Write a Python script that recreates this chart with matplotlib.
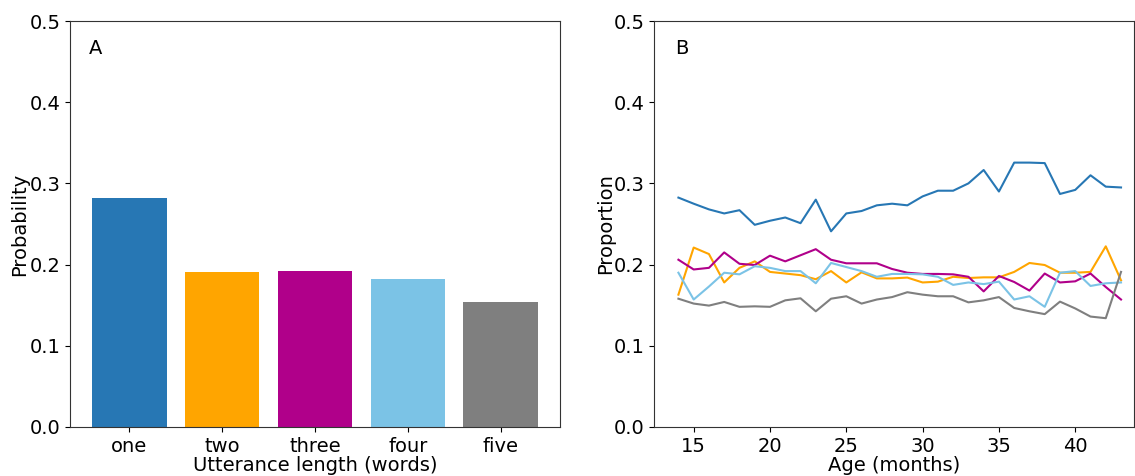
import matplotlib
matplotlib.use("Agg")
import matplotlib.pyplot as plt

# Panel A: probability of each utterance length
lengths = ["one", "two", "three", "four", "five"]
probabilities = [0.2825, 0.1905, 0.1926, 0.182, 0.154]

# Panel B: proportion of each utterance length by child age
ages = list(range(14, 44))
prop_one = [0.2825, 0.275, 0.268, 0.263, 0.267, 0.249, 0.254, 0.258, 0.251, 0.280,
            0.241, 0.263, 0.266, 0.273, 0.275, 0.273, 0.284, 0.291, 0.291, 0.300,
            0.3165, 0.290, 0.3256, 0.3256, 0.325, 0.287, 0.292, 0.310, 0.296, 0.295]
prop_two = [0.163, 0.221, 0.213, 0.178, 0.196, 0.204, 0.191, 0.189, 0.187, 0.182,
            0.192, 0.178, 0.1905, 0.183, 0.183, 0.184, 0.178, 0.179, 0.185, 0.1835,
            0.1843, 0.1843, 0.191, 0.202, 0.1995, 0.190, 0.190, 0.191, 0.2225, 0.1806]
prop_three = [0.206, 0.194, 0.196, 0.215, 0.201, 0.1995, 0.211, 0.204, 0.2115, 0.219,
              0.206, 0.2016, 0.2016, 0.2016, 0.1946, 0.190, 0.1885, 0.1885, 0.188, 0.185,
              0.167, 0.186, 0.1786, 0.168, 0.189, 0.178, 0.1794, 0.189, 0.1724, 0.157]
prop_four = [0.190, 0.157, 0.173, 0.190, 0.188, 0.198, 0.196, 0.192, 0.192, 0.177,
             0.202, 0.197, 0.192, 0.185, 0.1885, 0.1885, 0.188, 0.185, 0.175, 0.178,
             0.176, 0.179, 0.157, 0.161, 0.148, 0.190, 0.192, 0.1737, 0.177, 0.178]
prop_five = [0.158, 0.152, 0.1495, 0.154, 0.148, 0.1486, 0.148, 0.156, 0.1585, 0.1425,
             0.158, 0.161, 0.152, 0.157, 0.160, 0.166, 0.163, 0.161, 0.161, 0.1535,
             0.156, 0.160, 0.1466, 0.1425, 0.139, 0.1544, 0.146, 0.136, 0.134, 0.191]

colors = ["#2777b4", "#ffa500", "#b0008a", "#7bc3e6", "#7f7f7f"]

plt.rcParams["font.size"] = 14
plt.rcParams["font.family"] = ["DejaVu Sans"]

fig = plt.figure(figsize=(11.35, 4.76), dpi=100)
ax_a = fig.add_axes([70 / 1135, 49 / 476, 490 / 1135, 406 / 476])
ax_b = fig.add_axes([654 / 1135, 49 / 476, 480 / 1135, 406 / 476])

ax_a.bar(lengths, probabilities, color=colors, width=0.8)
ax_a.set_ylim(0, 0.5)
ax_a.set_xlabel("Utterance length (words)", labelpad=0)
ax_a.set_ylabel("Probability", labelpad=0)
ax_a.text(0.039, 0.933, "A", transform=ax_a.transAxes, va="center", ha="left")

series = [prop_one, prop_two, prop_three, prop_four, prop_five]
for values, c in zip(series, colors):
    ax_b.plot(ages, values, color=c, linewidth=1.5)
ax_b.set_ylim(0, 0.5)
ax_b.set_xlim(12.4, 43.85)
ax_b.set_xticks([15, 20, 25, 30, 35, 40])
ax_b.set_xlabel("Age (months)", labelpad=0)
ax_b.set_ylabel("Proportion", labelpad=-1)
ax_b.text(0.044, 0.933, "B", transform=ax_b.transAxes, va="center", ha="left")

for ax in (ax_a, ax_b):
    ax.set_yticks([0.0, 0.1, 0.2, 0.3, 0.4, 0.5])
    for s in ax.spines.values():
        s.set_color("#333333")

fig.savefig("out.png", dpi=100)
